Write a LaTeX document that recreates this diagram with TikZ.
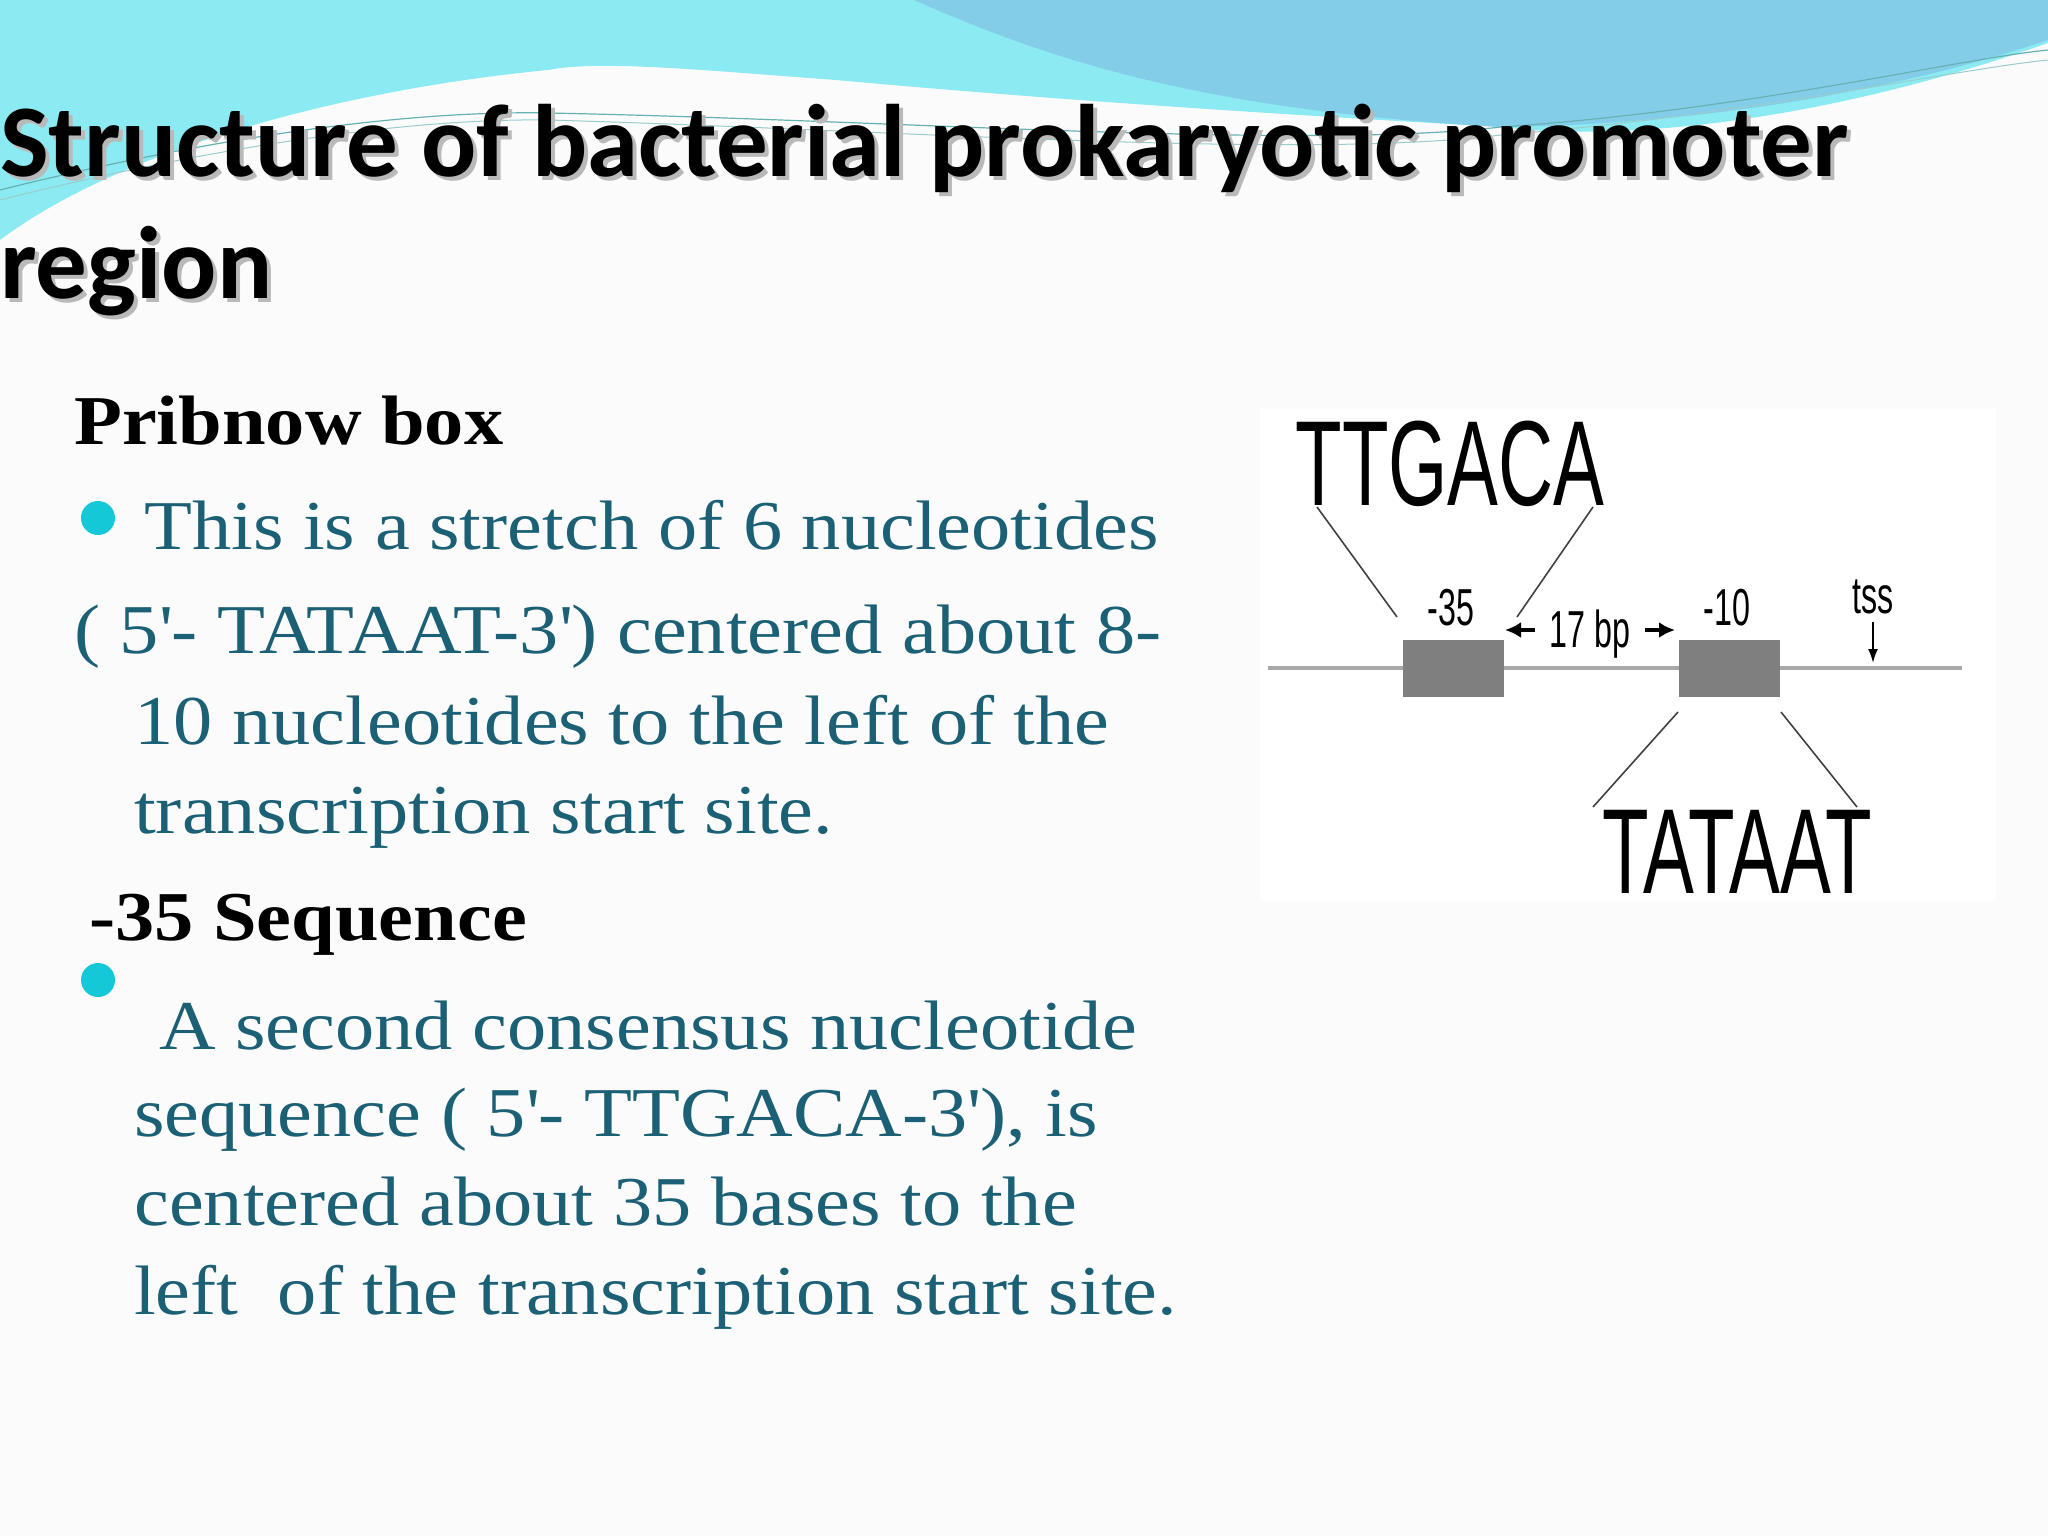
\documentclass[tikz,border=0pt]{standalone}
\usepackage{fontspec}
\usetikzlibrary{arrows.meta}
\setmainfont[FakeStretch=1.12]{Liberation Serif}
\newfontfamily\titlefont{Carlito}
\newfontfamily\diagfont{Liberation Sans}
\definecolor{bodyteal}{HTML}{1B6075}
\definecolor{cyanwave}{HTML}{8CEAF2}
\definecolor{bluewave}{HTML}{84CDE9}
\definecolor{dotcyan}{HTML}{14C8D8}
\definecolor{boxgray}{HTML}{7F7F7F}
\definecolor{linegray}{HTML}{A8A8A8}
\newcommand{\ap}{\textquotesingle}
\newcommand{\bigtxt}[1]{\scalebox{0.63}[1]{\fontsize{121}{121}\selectfont\diagfont #1}}
\newcommand{\smtxt}[1]{\scalebox{0.62}[1]{\fontsize{52}{52}\selectfont\diagfont #1}}
\tikzset{
  body/.style={anchor=base west, inner sep=0pt, text=bodyteal, font=\fontsize{70}{72}\selectfont},
  head/.style={anchor=base west, inner sep=0pt, text=black, font=\fontsize{70}{72}\selectfont\bfseries},
  ttl/.style={anchor=base west, inner sep=0pt, font=\fontsize{103}{103}\selectfont\titlefont\bfseries},
  big/.style={anchor=base, inner sep=0pt},
  small/.style={anchor=base, inner sep=0pt},
  gbox/.style={fill=boxgray, draw=none},
  thinl/.style={draw=black!75, line width=1.6pt}
}
\begin{document}
\begin{tikzpicture}[x=1pt,y=-1pt]
\useasboundingbox (0,0) rectangle (2048,1536);
\fill[gray!3] (0,0) rectangle (2048,1536);
% waves
\fill[cyanwave] (0,0) -- (2048,0) -- (2048,43) .. controls (1800,130) and (1600,140) .. (1501,127)
  .. controls (1200,110) and (1000,95) .. (836,80) .. controls (700,70) and (600,60) .. (548,70)
  .. controls (340,90) and (120,150) .. (0,240) -- cycle;
\fill[bluewave] (914,0) .. controls (1050,60) and (1200,110) .. (1501,127)
  .. controls (1700,125) and (1900,90) .. (2048,40) -- (2048,0) -- cycle;
\draw[teal!60, line width=1.2pt] (0,190) .. controls (200,140) and (400,110) .. (548,113)
  .. controls (900,120) and (1300,150) .. (1501,127) .. controls (1750,110) and (1950,60) .. (2048,50);
\draw[teal!40, line width=1pt] (0,200) .. controls (200,150) and (400,118) .. (548,120)
  .. controls (900,130) and (1300,160) .. (1501,135) .. controls (1750,115) and (1950,70) .. (2048,60);
% title
\node[ttl, text=gray!55] (t1s) at (4,180) {Structure of bacterial prokaryotic promoter};
\node[ttl] (t1) at (0,176) {Structure of bacterial prokaryotic promoter};
\node[ttl, text=gray!55] (t2s) at (4,302) {region};
\node[ttl] (t2) at (0,298) {region};
% body
\node[head] (h1) at (74,444) {Pribnow box};
\fill[dotcyan] (98,518) circle (17) node (d1) {};
\node[body] (l1) at (144,549) {This is a stretch of 6 nucleotides};
\node[body] (l2) at (74,653) {( 5\ap- TATAAT-3\ap) centered about 8-};
\node[body] (l3) at (134,744) {10 nucleotides to the left of the};
\node[body] (l4) at (134,833) {transcription start site.};
\node[head] (h2) at (89,940) {-35 Sequence};
\fill[dotcyan] (98,980) circle (17) node (d2) {};
\node[body] (l5) at (159,1049) {A second consensus nucleotide};
\node[body] (l6) at (134,1136) {sequence ( 5\ap- TTGACA-3\ap), is};
\node[body] (l7) at (134,1225) {centered about 35 bases to the};
\node[body] (l8) at (134,1314) {left\ \ of the transcription start site.};
% diagram
\fill[white] (1260,409) rectangle (1996,901);
\draw[linegray, line width=4pt] (1268,668) -- (1962,668);
\fill[gbox] (1403,640) rectangle (1504,697) node (b1) {};
\fill[gbox] (1679,640) rectangle (1780,697) node (b2) {};
\node[big] (ttg) at (1450,505) {\bigtxt{TTGACA}};
\node[big] (tat) at (1737,893) {\bigtxt{TATAAT}};
\coordinate (a1) at (1317,507); \coordinate (a2) at (1397,617);
\coordinate (a3) at (1593,507); \coordinate (a4) at (1517,617);
\coordinate (a5) at (1678,712); \coordinate (a6) at (1593,807);
\coordinate (a7) at (1781,712); \coordinate (a8) at (1857,807);
\draw[thinl] (a1) -- (a2); \draw[thinl] (a3) -- (a4);
\draw[thinl] (a5) -- (a6); \draw[thinl] (a7) -- (a8);
\node[small] (m35) at (1451,625) {\smtxt{-35}};
\node[small] (bp) at (1590,647) {\smtxt{17 bp}};
\node[small] (m10) at (1727,625) {\smtxt{-10}};
\node[small] (tss) at (1873,613) {\smtxt{tss}};
\coordinate (la) at (1505,630); \coordinate (lb) at (1535,630);
\coordinate (ra) at (1675,630); \coordinate (rb) at (1645,630);
\draw[-{Latex[length=16pt,width=16pt]}, line width=4pt] (lb) -- (la);
\draw[-{Latex[length=16pt,width=16pt]}, line width=4pt] (rb) -- (ra);
\coordinate (ta) at (1873,622); \coordinate (tb) at (1873,663);
\draw[-{Latex[length=14pt,width=10pt]}, line width=2pt] (ta) -- (tb);
\end{tikzpicture}
\end{document}
